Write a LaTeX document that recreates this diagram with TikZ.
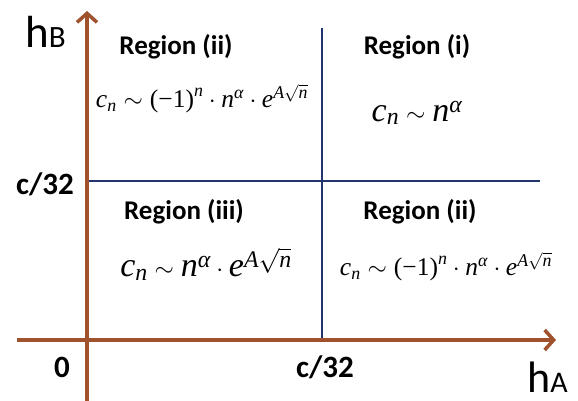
\documentclass[tikz,border=0pt]{standalone}
\usepackage{amsmath}
\usepackage{fontspec}
\setmainfont{Carlito}
\newfontfamily\tmsfont{Liberation Serif}
\usetikzlibrary{arrows.meta}
\definecolor{axisbrown}{RGB}{160,82,45}
\definecolor{linenavy}{RGB}{32,52,110}
\newcommand{\vi}[1]{\text{\tmsfont\itshape #1}}
\newcommand{\vr}[1]{\text{\tmsfont\upshape #1}}
\newcommand{\formulaA}{$\vi{c}_{\vi{n}}\sim\vr{(\textminus1)}^{\vi{n}}\cdot\vi{n}^{\vi{α}}\cdot\vi{e}^{\vi{A}\sqrt{\vi{n}}}$}
\begin{document}
\begin{tikzpicture}[x=1pt,y=-1pt,
  axis/.style={draw=axisbrown,line width=3.5pt,-{Straight Barb[length=9pt,width=20pt,line width=3.5pt]}},
  divider/.style={draw=linenavy,line width=1.6pt},
  reglabel/.style={font=\fontsize{27}{29}\selectfont\bfseries,inner sep=0pt},
  ticklabel/.style={font=\fontsize{31}{33}\selectfont\bfseries,inner sep=0pt},
  axislabel/.style={inner sep=0pt,anchor=base west},
  bigf/.style={font=\fontsize{34}{36}\selectfont,inner sep=0pt},
  smallf/.style={font=\fontsize{25.5}{27}\selectfont,inner sep=0pt}]
\useasboundingbox (0,0) rectangle (578,401);
% axes
\coordinate (ystart) at (87,401);
\coordinate (yend) at (87,11);
\coordinate (xstart) at (17,340);
\coordinate (xend) at (556,340);
\coordinate (vtop) at (322,28);
\coordinate (vbot) at (322,340);
\coordinate (hl) at (87,181);
\coordinate (hr) at (540,181);
\draw[divider] (vtop) -- (vbot);
\draw[divider] (hl) -- (hr);
\draw[axis] (ystart) -- (yend);
\draw[axis] (xstart) -- (xend);
% axis labels
\node[axislabel] (hB) at (25,48) {\fontsize{45}{45}\selectfont h\fontsize{31}{31}\selectfont B};
\node[axislabel] (hA) at (527,392) {\smash{\fontsize{44}{44}\selectfont h\fontsize{30}{30}\selectfont A}};
\node[ticklabel] (cy) at (45,184) {c/32};
\node[ticklabel] (zero) at (62,367) {0};
\node[ticklabel] (cx) at (325,367) {c/32};
% region labels
\node[reglabel] (r2a) at (176,47) {Region (ii)};
\node[reglabel] (r1) at (417,47) {Region (i)};
\node[reglabel] (r3) at (184,212) {Region (iii)};
\node[reglabel] (r2b) at (420,212) {Region (ii)};
% formulas
\node[smallf] (f2a) at (202,99) {\formulaA};
\node[bigf] (f1) at (417,113) {$\vi{c}_{\vi{n}}\sim\vi{n}^{\vi{α}}$};
\node[bigf] (f3) at (206,264) {$\vi{c}_{\vi{n}}\sim\vi{n}^{\vi{α}}\cdot\vi{e}^{\vi{A}\sqrt{\vi{n}}}$};
\node[smallf] (f2b) at (446,267) {\formulaA};
\end{tikzpicture}
\end{document}
